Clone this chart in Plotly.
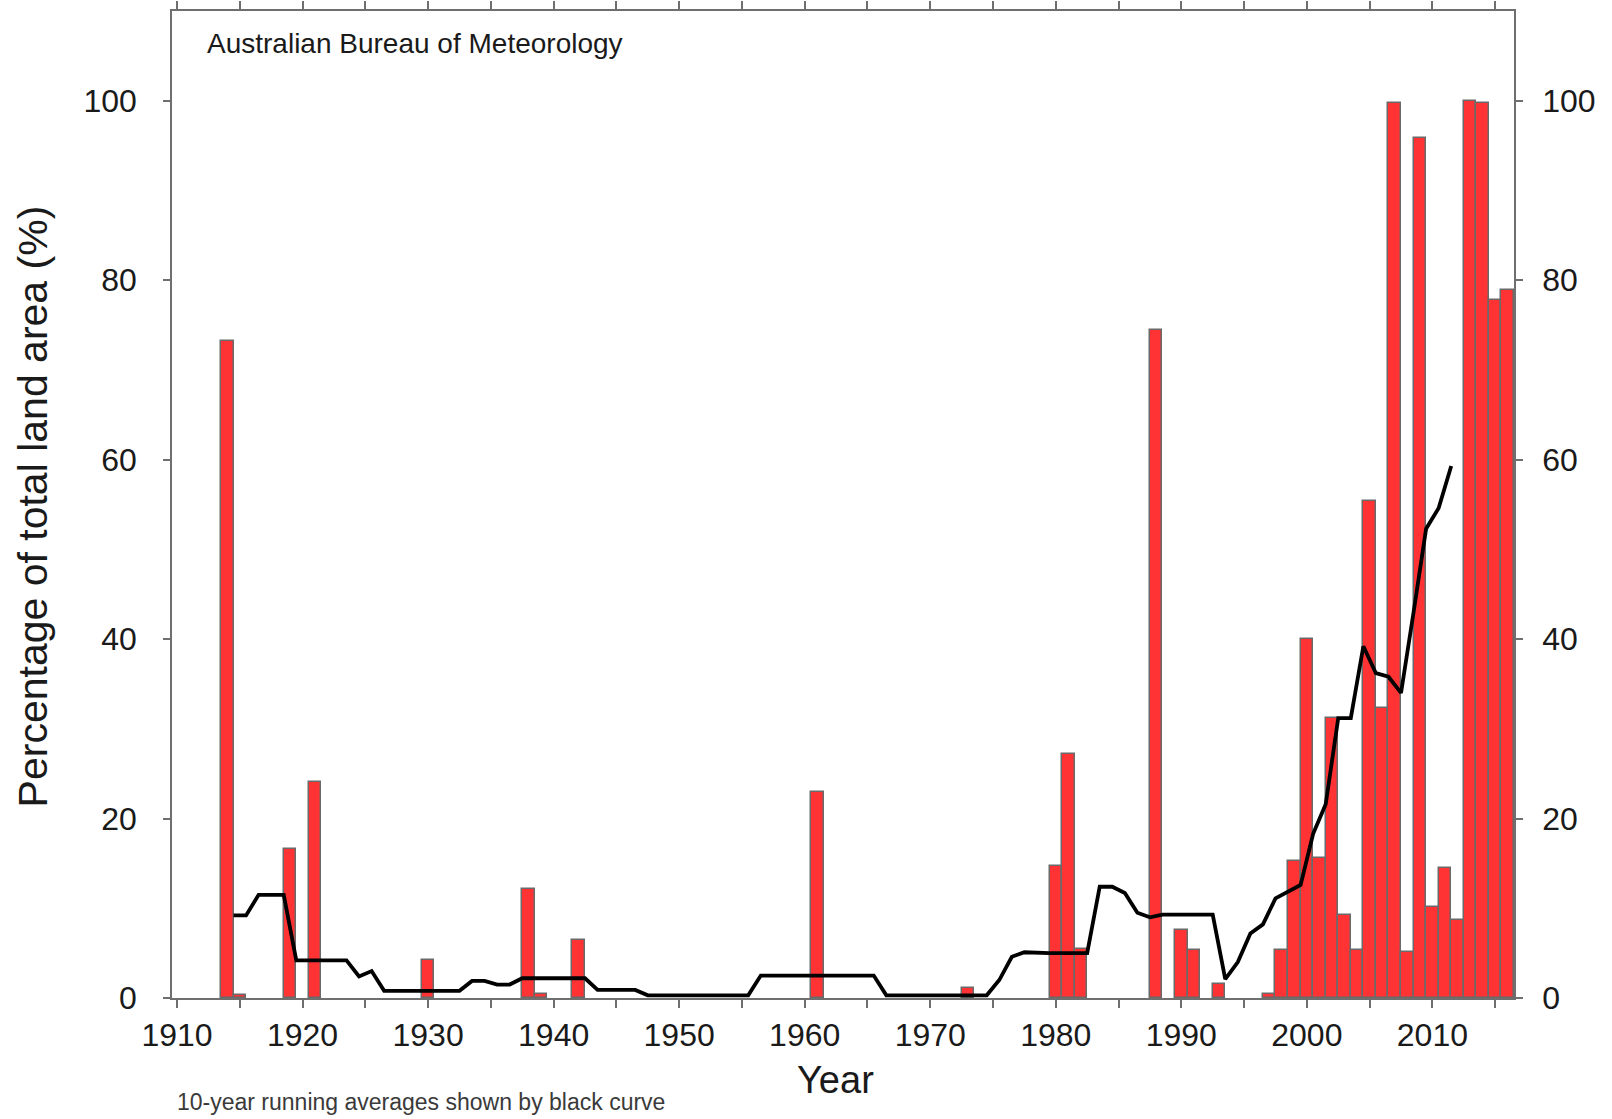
import plotly.graph_objects as go

# ---- data ----
bar_years = [1914, 1915, 1919, 1921, 1930, 1938, 1939, 1942, 1961, 1973,
             1980, 1981, 1982, 1988, 1990, 1991, 1993, 1997, 1998, 1999,
             2000, 2001, 2002, 2003, 2004, 2005, 2006, 2007, 2008, 2009,
             2010, 2011, 2012, 2013, 2014, 2015, 2016]
bar_values = [73.2, 0.3, 16.6, 24.1, 4.2, 12.1, 0.5, 6.5, 23.0, 1.1,
              14.7, 27.2, 5.5, 74.4, 7.6, 5.3, 1.6, 0.5, 5.3, 15.3,
              40.0, 15.6, 31.2, 9.3, 5.3, 55.4, 32.3, 99.8, 5.1, 95.8,
              10.1, 14.5, 8.7, 100.0, 99.7, 77.8, 78.9]

# 10-year running average, plotted at window centres 1914.5 ... 2011.5
avg_years = [y + 0.5 for y in range(1914, 2012)]
avg_values = [9.2, 9.2, 11.5, 11.5, 11.5, 4.2, 4.2, 4.2, 4.2, 4.2,
              2.4, 3.0, 0.8, 0.8, 0.8, 0.8, 0.8, 0.8, 0.8, 1.9,
              1.9, 1.5, 1.5, 2.2, 2.2, 2.2, 2.2, 2.2, 2.2, 0.9,
              0.9, 0.9, 0.9, 0.3, 0.3, 0.3, 0.3, 0.3, 0.3, 0.3,
              0.3, 0.3, 2.5, 2.5, 2.5, 2.5, 2.5, 2.5, 2.5, 2.5,
              2.5, 2.5, 0.3, 0.3, 0.3, 0.3, 0.3, 0.3, 0.3, 0.3,
              0.3, 2.0, 4.6, 5.1, 5.0, 5.0, 5.0, 5.0, 5.0, 12.4,
              12.4, 11.7, 9.5, 9.0, 9.3, 9.3, 9.3, 9.3, 9.3, 2.1,
              4.0, 7.2, 8.2, 11.1, 11.9, 12.6, 18.3, 21.6, 31.2, 31.2,
              39.2, 36.2, 35.8, 34.0, 43.0, 52.3, 54.6, 59.3]

y_ticks = [0, 20, 40, 60, 80, 100]
x_ticks = [1910, 1920, 1930, 1940, 1950, 1960, 1970, 1980, 1990, 2000, 2010]

title_text = "Australian Bureau of Meteorology"
y_title = "Percentage of total land area (%)"
x_title = "Year"
note_text = "10-year running averages shown by black curve"

FONT = "Liberation Sans, Arial, sans-serif"
AX = "#6f6f6f"
TXT = "#1a1a1a"

fig = go.Figure()
fig.add_trace(go.Bar(
    x=bar_years, y=bar_values, width=1.0,
    marker=dict(color="#ff3333", line=dict(color="#6a6a6a", width=1.5)),
    showlegend=False, hoverinfo="x+y"))
fig.add_trace(go.Scatter(
    x=avg_years, y=avg_values, mode="lines",
    line=dict(color="black", width=3.8), showlegend=False))
# invisible trace to activate the right-hand axis
fig.add_trace(go.Scatter(x=[avg_years[0]], y=[avg_values[0]], yaxis="y2",
                         mode="markers", marker=dict(opacity=0),
                         showlegend=False, hoverinfo="skip"))

W, H = 1612, 1119
ml, mr, mt, mb = 172, 98, 10.5, 121.3

fig.update_layout(
    template="none",
    width=W, height=H,
    margin=dict(l=ml, r=mr, t=mt, b=mb, pad=0, autoexpand=False),
    paper_bgcolor="white", plot_bgcolor="white",
    bargap=0,
    font=dict(family=FONT, color=TXT),
    xaxis=dict(range=[1909.6, 2016.5], tickvals=x_ticks, automargin=False,
               ticks="outside", ticklen=8, tickwidth=1.5, tickcolor=AX,
               minor=dict(dtick=5, tick0=1910, ticks="outside", ticklen=5,
                          tickwidth=1.5, tickcolor=AX, showgrid=False),
               showline=True, linecolor=AX, linewidth=1.5, mirror="allticks",
               showgrid=False, zeroline=False,
               tickfont=dict(size=32, color=TXT), ticklabelstandoff=0),
    yaxis=dict(range=[0, 110], tickvals=y_ticks, automargin=False,
               ticks="outside", ticklen=7, tickwidth=1.5, tickcolor=AX,
               showline=True, linecolor=AX, linewidth=1.5, mirror=True,
               showgrid=False, zeroline=False,
               tickfont=dict(size=32, color=TXT), ticklabelstandoff=20),
    yaxis2=dict(range=[0, 110], tickvals=y_ticks, overlaying="y", side="right",
                automargin=False,
                ticks="outside", ticklen=7, tickwidth=1.5, tickcolor=AX,
                showline=True, linecolor=AX, linewidth=1.5,
                showgrid=False, zeroline=False,
                tickfont=dict(size=32, color=TXT), ticklabelstandoff=13),
)

pw = W - ml - mr
ph = H - mt - mb

def px(xpix):
    return (xpix - ml) / pw

def py(ypix):
    return (H - mb - ypix) / ph

fig.add_annotation(text=title_text, x=px(205), y=py(43), xref="paper", yref="paper",
                   xanchor="left", yanchor="middle", showarrow=False,
                   font=dict(size=28, color=TXT, family=FONT))
fig.add_annotation(text=y_title, x=px(33), y=py(506), xref="paper", yref="paper",
                   xanchor="center", yanchor="middle", showarrow=False, textangle=-90,
                   font=dict(size=41, color=TXT, family=FONT))
fig.add_annotation(text=x_title, x=px(835), y=py(1080), xref="paper", yref="paper",
                   xanchor="center", yanchor="middle", showarrow=False,
                   font=dict(size=38, color=TXT, family=FONT))
fig.add_annotation(text=note_text, x=px(175), y=py(1102), xref="paper", yref="paper",
                   xanchor="left", yanchor="middle", showarrow=False,
                   font=dict(size=23, color="#3a3a3a", family=FONT))

fig.write_html("out.html", config={"displayModeBar": False},
               post_script="document.body.style.margin='0';")
